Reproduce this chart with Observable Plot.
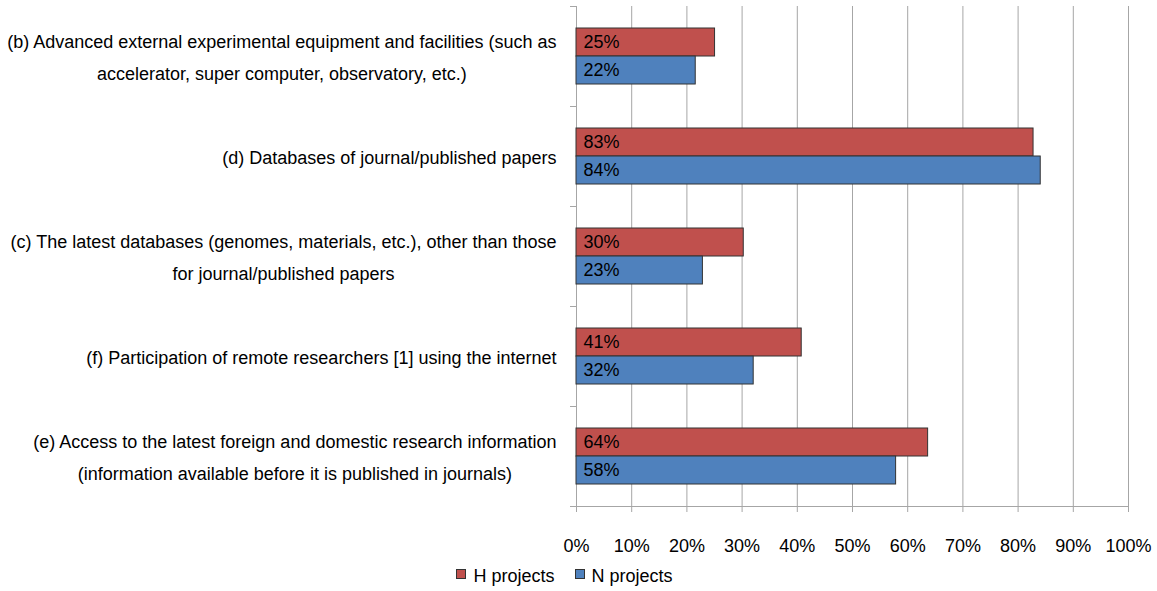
<!DOCTYPE html>
<html>
<head>
<meta charset="utf-8">
<script src="https://cdn.jsdelivr.net/npm/d3@7"></script>
<script src="https://cdn.jsdelivr.net/npm/@observablehq/plot@0.6"></script>
<style>
  html, body { margin: 0; padding: 0; background: #fff; }
  body { width: 1157px; height: 591px; overflow: hidden; font-family: "Liberation Sans", Arial, sans-serif; }
  #legend { display: flex; justify-content: center; align-items: center; padding-right: 28px; height: 33px; font-size: 18px; color: #000; }
  #legend .item { display: flex; align-items: center; margin: 0 10px; }
  #legend .sw { width: 8px; height: 8px; border: 1px solid #333; margin-right: 7px; margin-top: -5px; }
</style>
</head>
<body>
<div id="chart"></div>
<div id="legend"></div>
<script>
// ---- data ----
const categories = [
  "(b) Advanced external experimental equipment and facilities (such as\naccelerator, super computer, observatory, etc.)",
  "(d) Databases of journal/published papers",
  "(c) The latest databases (genomes, materials, etc.), other than those\nfor journal/published papers",
  "(f) Participation of remote researchers [1] using the internet",
  "(e) Access to the latest foreign and domestic research information\n(information available before it is published in journals)"
];
const seriesNames = ["H projects", "N projects"];
const hValues = [25.1, 82.8, 30.3, 40.8, 63.7];
const nValues = [21.6, 84.1, 22.9, 32.1, 57.9];
const seriesColors = ["#C0504D", "#4F81BD"];
const xTicks = [0, 10, 20, 30, 40, 50, 60, 70, 80, 90, 100];

const data = [];
categories.forEach((c, i) => {
  data.push({cat: c, series: seriesNames[0], value: hValues[i]});
  data.push({cat: c, series: seriesNames[1], value: nValues[i]});
});

const gray = "#a6a6a6";
const lastCat = categories[categories.length - 1];

const plot = Plot.plot({
  width: 1157,
  height: 560,
  marginLeft: 576,
  marginRight: 29,
  marginTop: 5,
  marginBottom: 53,
  style: {fontFamily: "'Liberation Sans', Arial, sans-serif", fontSize: "18px", color: "#000", background: "#fff", overflow: "visible"},
  x: {domain: [0, 100], label: null},
  y: {domain: seriesNames, paddingInner: 0, paddingOuter: 0.75, axis: null, label: null},
  fy: {domain: categories, padding: 0, label: null},
  color: {domain: seriesNames, range: seriesColors},
  marks: [
    Plot.gridX(xTicks, {stroke: gray, strokeOpacity: 1, strokeWidth: 1}),
    Plot.ruleX([0], {stroke: gray, strokeWidth: 1}),
    Plot.frame({anchor: "top", stroke: gray, strokeOpacity: 1, insetLeft: -6, insetRight: 552}),
    Plot.frame({anchor: "bottom", stroke: gray, strokeOpacity: 1, insetLeft: -6, fy: [lastCat]}),
    Plot.barX(data, {fy: "cat", y: "series", x: "value", fill: "series", stroke: "#333", strokeWidth: 1}),
    Plot.text(data, {fy: "cat", y: "series", x: 0, text: d => Math.round(d.value) + "%", textAnchor: "start", dx: 7, fontSize: 18, fill: "#000"}),
    Plot.axisX(xTicks, {anchor: "bottom", tickSize: 6, tickPadding: 27, stroke: gray, fill: "#000", fontSize: 18, tickFormat: d => d + "%", label: null}),
    Plot.axisFy({anchor: "left", tickSize: 0, tickPadding: 20, dy: -3, fontSize: 18, lineHeight: 1.78, fill: "#000", tickFormat: d => d, label: null})
  ]
});

document.getElementById("chart").appendChild(plot);

// center the lines of each multi-line category label within its block (right edge at the axis padding)
d3.select(plot).selectAll('g[aria-label="fy-axis tick label"] text').each(function () {
  const w = this.getBBox().width;
  const t = this.getAttribute("transform") || "";
  this.setAttribute("text-anchor", "middle");
  this.setAttribute("transform", t + ` translate(${-w / 2},0)`);
});

// legend
const color = plot.scale("color");
const legend = d3.select("#legend");
color.domain.forEach((name, i) => {
  const item = legend.append("div").attr("class", "item");
  item.append("div").attr("class", "sw").style("background", color.range[i]);
  item.append("span").text(name);
});
</script>
</body>
</html>
